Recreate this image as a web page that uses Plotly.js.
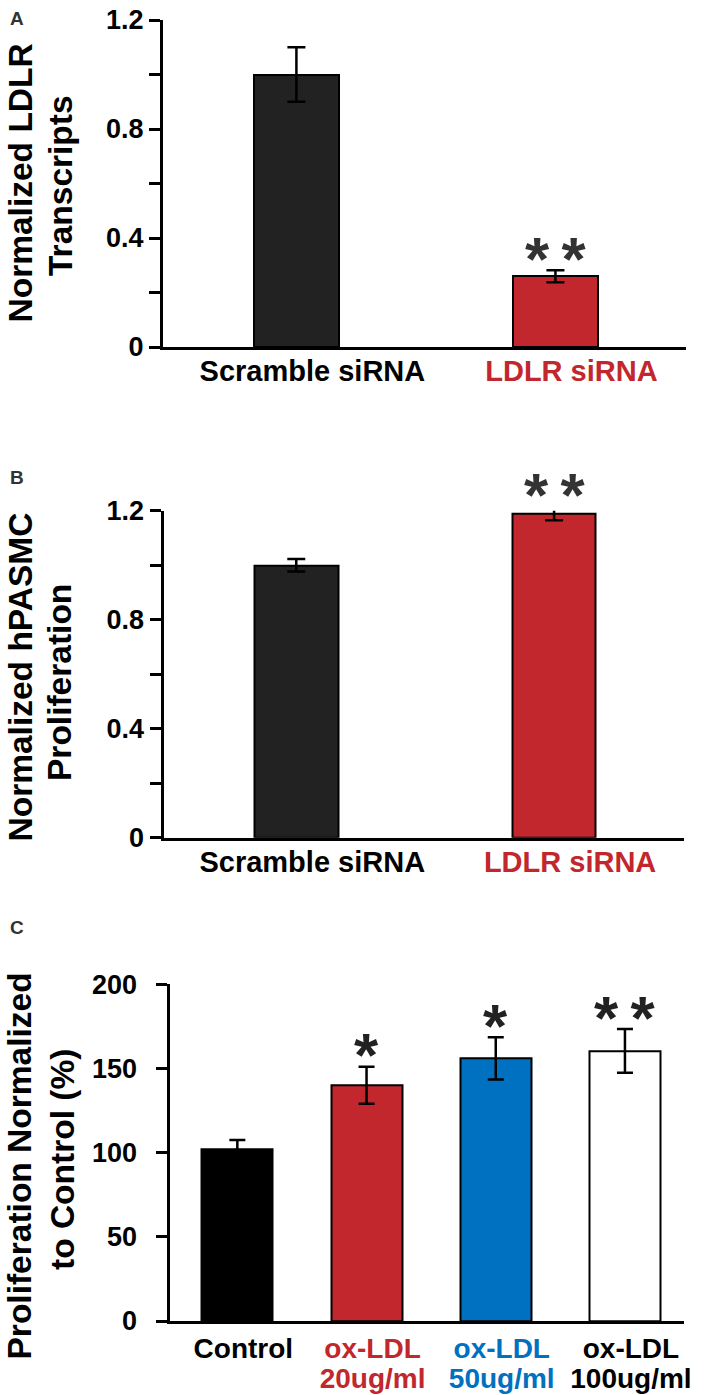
<!DOCTYPE html>
<html><head><meta charset="utf-8">
<script src="https://cdn.plot.ly/plotly-3.0.1.min.js"></script>
<style>html,body{margin:0;padding:0;background:#fff}</style>
</head><body><div id="chart" style="width:709px;height:1395px"></div>
<script>
// ---------- data ----------
const groupsAB = ["Scramble siRNA", "LDLR siRNA"];
const ldlrTranscripts = [1.00, 0.26];
const ldlrTranscriptsErr = [0.10, 0.022];
const hpasmcProlif = [1.00, 1.19];
const hpasmcProlifErr = [0.023, 0.025];
const sigA = ["", "* *"];
const sigB = ["", "* *"];

const groupsC = ["Control", "ox-LDL 20ug/ml", "ox-LDL 50ug/ml", "ox-LDL 100ug/ml"];
const tickLine1C = ["Control", "ox-LDL", "ox-LDL", "ox-LDL"];
const tickLine2C = ["", "20ug/ml", "50ug/ml", "100ug/ml"];
const prolifC = [102, 140, 156, 160.5];
const prolifCErr = [5.5, 11, 12.5, 13];
const sigC = ["", "*", "*", "* *"];

const yTicksAB = [0, 0.2, 0.4, 0.6, 0.8, 1.0, 1.2];
const yTickTextAB = ["0", "", "0.4", "", "0.8", "", "1.2"];
const yTicksC = [0, 50, 100, 150, 200];
const yTickTextC = ["0", "50", "100", "150", "200"];

const titleA = ["Normalized LDLR", "Transcripts"];
const titleB = ["Normalized hPASMC", "Proliferation"];
const titleC = ["Proliferation Normalized", "to Control (%)"];

// ---------- styles ----------
const RED = "#c1272d", BLUE = "#0070c0";
const barColorsAB = ["#222222", RED];
const labelColorsAB = ["#000000", RED];
const barColorsC = ["#000000", RED, BLUE, "#ffffff"];
const labelColorsC = ["#000000", RED, BLUE, "#000000"];
const FAM = "Liberation Sans, Arial, sans-serif";
const W = 709, H = 1395;
const xd = (l, r) => [l / W, r / W];
const yd = (t, b) => [1 - b / H, 1 - t / H];

// plot boxes in pixels: [left, right, top, bottom]
const boxA = [163, 686, 20, 347];
const boxB = [163.5, 684, 510.7, 837.7];
const boxC = [169.5, 684, 984.3, 1321];
const rangeAB = [0, 1.2], rangeC = [0, 200];

function barTrace(x, y, err, colors, xa, ya, width, capw) {
  return {
    type: "bar", x: x, y: y, xaxis: xa, yaxis: ya, width: width, cliponaxis: false,
    marker: {color: colors, line: {color: "#000", width: 2}},
    error_y: {type: "data", array: err, visible: true, color: "#000", thickness: 2.5, width: capw},
    hoverinfo: "x+y", showlegend: false
  };
}

const data = [
  barTrace(groupsAB, ldlrTranscripts, ldlrTranscriptsErr, barColorsAB, "x", "y", 0.325, 9),
  barTrace(groupsAB, hpasmcProlif, hpasmcProlifErr, barColorsAB, "x2", "y2", 0.325, 9),
  barTrace(groupsC, prolifC, prolifCErr, barColorsC, "x3", "y3", 0.55, 8)
];

function yAxis(box, anchor, range, tv, tt, standoff) {
  return {
    domain: yd(box[2], box[3]), anchor: anchor, range: range, tickvals: tv, ticktext: tt,
    ticks: "outside", ticklen: 11, tickwidth: 3, tickcolor: "#000", ticklabelstandoff: standoff,
    showline: true, linewidth: 3, linecolor: "#000", showgrid: false, zeroline: false,
    tickfont: {family: FAM, size: 27, weight: "bold", color: "#000"},
    fixedrange: true
  };
}
function xAxis(box, anchor, range, tv, tt, fontSize, shift, standoff) {
  return {
    domain: xd(box[0], box[1]), anchor: anchor, range: range, type: "category",
    tickvals: tv, ticktext: tt, ticks: "", showline: true, linewidth: 3, linecolor: "#000",
    showgrid: false, zeroline: false, ticklabelshift: shift, ticklabelstandoff: standoff,
    tickfont: {family: FAM, size: fontSize, weight: "bold", color: "#000"},
    fixedrange: true
  };
}

const tickTextAB = groupsAB.map((g, i) => `<span style="color:${labelColorsAB[i]}">${g}</span>`);
const tickTextC = groupsC.map((g, i) => {
  const s = `font-size:28px;color:${labelColorsC[i]}`;
  return tickLine2C[i]
    ? `<span style="${s}">${tickLine1C[i]}</span><br><span style="${s}">${tickLine2C[i]}</span>`
    : `<span style="${s}">${tickLine1C[i]}</span>`;
});

const annotations = [];
const STAR_SIZE = 62;
function stars(groups, vals, errs, sig, xa, ya, box, range, color) {
  const pxPerUnit = (box[3] - box[2]) / (range[1] - range[0]);
  sig.forEach((s, i) => {
    if (!s) return;
    const txt = s.split(" ").join('<span style="font-size:44px"> </span>');
    annotations.push({
      xref: xa, yref: ya, x: groups[i], y: vals[i], text: txt,
      showarrow: false, yanchor: "bottom",
      yshift: errs[i] * pxPerUnit + 25 - 0.8 * STAR_SIZE,
      font: {family: FAM, size: STAR_SIZE, weight: "bold", color: color}
    });
  });
}
stars(groupsAB, ldlrTranscripts, ldlrTranscriptsErr, sigA, "x", "y", boxA, rangeAB, "#333333");
stars(groupsAB, hpasmcProlif, hpasmcProlifErr, sigB, "x2", "y2", boxB, rangeAB, "#333333");
stars(groupsC, prolifC, prolifCErr, sigC, "x3", "y3", boxC, rangeC, "#222222");

function yTitle(lines, cxs, cys) {
  lines.forEach((t, i) => annotations.push({
    xref: "paper", yref: "paper", x: cxs[i] / W, y: 1 - cys[i] / H, text: t,
    textangle: -90, showarrow: false, xanchor: "center", yanchor: "middle",
    font: {family: FAM, size: 33.5, weight: "bold", color: "#000"}
  }));
}
yTitle(titleA, [19.5, 60], [183, 185]);
yTitle(titleB, [19.5, 59], [677, 683]);
yTitle(titleC, [18.5, 62], [1166, 1160]);

[["A", 17, 19], ["B", 17, 477], ["C", 17, 927]].forEach(([t, x, y]) => annotations.push({
  xref: "paper", yref: "paper", x: x / W, y: 1 - y / H, text: t, showarrow: false,
  xanchor: "center", yanchor: "middle",
  font: {family: FAM, size: 19, weight: "bold", color: "#333333"}
}));

const layout = {
  width: W, height: H, margin: {l: 0, r: 0, t: 0, b: 0},
  paper_bgcolor: "#fff", plot_bgcolor: "rgba(0,0,0,0)",
  showlegend: false, bargap: 0,
  xaxis: xAxis(boxA, "y", [-0.515, 1.504], groupsAB, tickTextAB, 29, 16, -4),
  yaxis: yAxis(boxA, "x", rangeAB, yTicksAB, yTickTextAB, 0),
  xaxis2: xAxis(boxB, "y2", [-0.515, 1.504], groupsAB, tickTextAB, 29, 16, -4),
  yaxis2: yAxis(boxB, "x2", rangeAB, yTicksAB, yTickTextAB, 0),
  xaxis3: xAxis(boxC, "y3", [-0.525, 3.457], groupsC, tickTextC, 23, 6, 6),
  yaxis3: yAxis(boxC, "x3", rangeC, yTicksC, yTickTextC, 13),
  annotations: annotations
};

Plotly.newPlot("chart", data, layout, {displayModeBar: false, responsive: false});
</script>
</body></html>
